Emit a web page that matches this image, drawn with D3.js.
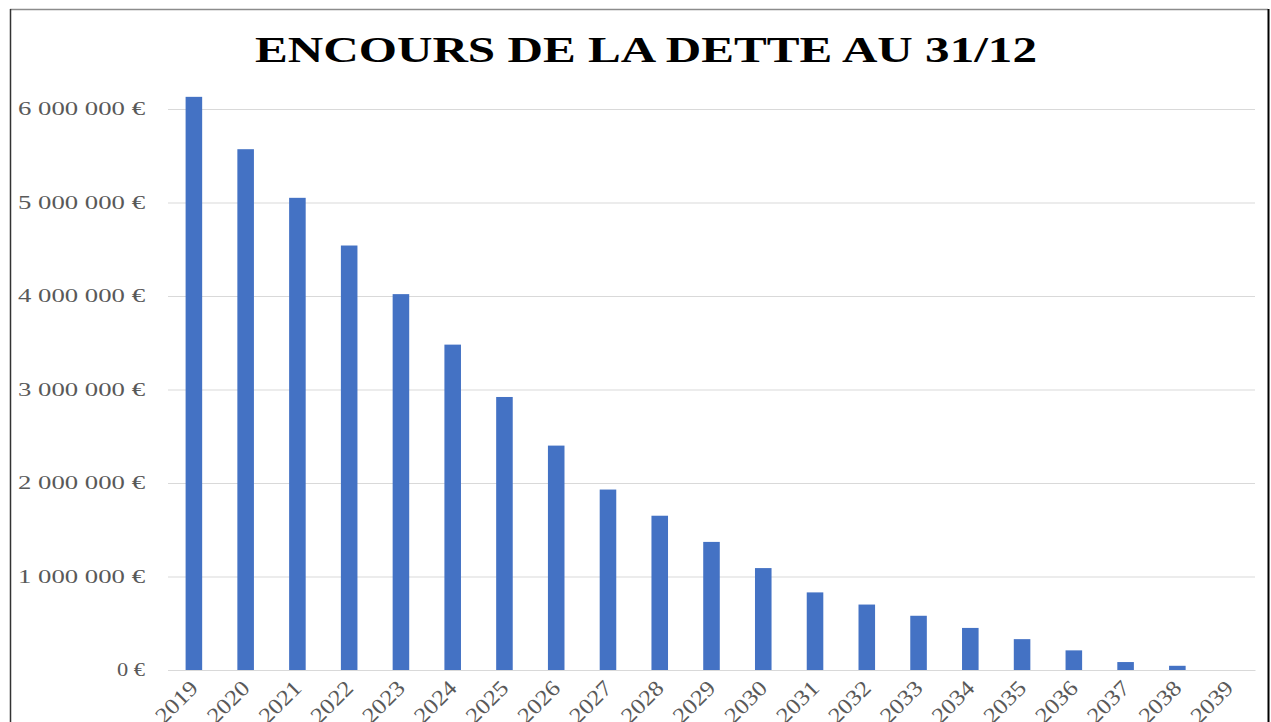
<!DOCTYPE html>
<html>
<head>
<meta charset="utf-8">
<script src="https://cdn.jsdelivr.net/npm/d3@7"></script>
<style>
  body { margin: 0; background: #fff; }
  svg { display: block; }
</style>
</head>
<body>
<div id="chart"></div>
<script>
const years = ['2019', '2020', '2021', '2022', '2023', '2024', '2025', '2026', '2027', '2028',
    '2029', '2030', '2031', '2032', '2033', '2034', '2035', '2036', '2037', '2038', '2039'];
const encours = [6130000, 5570000, 5050000, 4540000, 4020000, 3480000, 2920000, 2400000, 1930000, 1650000,
    1370000, 1090000, 830000, 700000, 580000, 450000, 330000, 210000, 85000, 45000, 0];
const yTicks = [0, 1000000, 2000000, 3000000, 4000000, 5000000, 6000000];

let width = 1271;
let height = 722;
let plotLeft = 168, plotRight = 1255, plotTop = 109, plotBottom = 670;

let svg = d3.select('#chart')
    .append('svg')
    .attr('width', width)
    .attr('height', height);

// frame
svg.append('line').attr('x1', 10).attr('x2', 1268).attr('y1', 9.5).attr('y2', 9.5)
    .style('stroke', '#8c8c8c').style('stroke-width', 1.5);
svg.append('line').attr('x1', 10.5).attr('x2', 10.5).attr('y1', 9).attr('y2', height)
    .style('stroke', '#333').style('stroke-width', 1.5);
svg.append('line').attr('x1', 1268.5).attr('x2', 1268.5).attr('y1', 9).attr('y2', height)
    .style('stroke', '#000').style('stroke-width', 2);

let x = d3.scaleBand()
    .domain(years)
    .range([plotLeft, plotRight])
    .paddingInner(0.68)
    .paddingOuter(0.34);

let y = d3.scaleLinear()
    .domain([0, 6000000])
    .range([plotBottom, plotTop]);

const fmt = v => d3.format(',')(v).replace(/,/g, ' ') + ' €';

// grid
let yAxis = d3.axisLeft(y)
    .tickValues(yTicks)
    .tickSize(-(plotRight - plotLeft))
    .tickPadding(23)
    .tickFormat(fmt);

let gy = svg.append('g')
    .attr('transform', `translate(${plotLeft},0)`)
    .call(yAxis);
gy.select('.domain').remove();
gy.selectAll('.tick line').style('stroke', '#d9d9d9');
gy.selectAll('.tick text')
    .style('font-family', '"Liberation Serif", "Times New Roman", serif')
    .style('font-size', '18px')
    .style('fill', '#595959')
    .attr('textLength', d => d === 0 ? 28 : 127)
    .attr('lengthAdjust', 'spacingAndGlyphs');

svg.append('g').selectAll('rect')
    .data(encours)
    .enter()
    .append('rect')
    .attr('x', (d, i) => x(years[i]))
    .attr('width', x.bandwidth())
    .attr('y', d => y(d))
    .attr('height', d => y(0) - y(d))
    .style('fill', '#4472C4');

let xAxis = d3.axisBottom(x).tickSize(0).tickPadding(0);
let gx = svg.append('g')
    .attr('transform', `translate(0,${plotBottom})`)
    .call(xAxis);
gx.select('.domain').style('stroke', '#d9d9d9');
gx.selectAll('.tick text')
    .style('font-family', '"Liberation Serif", "Times New Roman", serif')
    .style('font-size', '22px')
    .style('fill', '#595959')
    .attr('text-anchor', 'end')
    .attr('y', 0)
    .attr('dy', '0.35em')
    .attr('textLength', 50)
    .attr('lengthAdjust', 'spacingAndGlyphs')
    .attr('transform', 'translate(0,14) rotate(-45)');

svg.append('text')
    .attr('x', 646)
    .attr('y', 62)
    .attr('text-anchor', 'middle')
    .attr('textLength', 782)
    .attr('lengthAdjust', 'spacingAndGlyphs')
    .style('font-family', '"Liberation Serif", "Times New Roman", serif')
    .style('font-weight', 'bold')
    .style('font-size', '35px')
    .style('fill', '#000')
    .text('ENCOURS DE LA DETTE AU 31/12');
</script>
</body>
</html>
